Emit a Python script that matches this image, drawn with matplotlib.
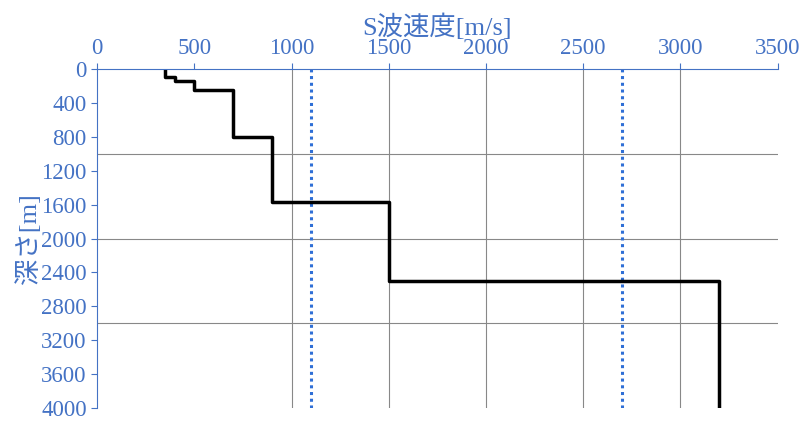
import matplotlib.pyplot as plt
plt.rcParams['font.family'] = ['Liberation Serif', 'Noto Sans CJK JP', 'DejaVu Sans']

vs = [350, 400, 500, 700, 900, 1500, 3200]
top = [0, 100, 140, 250, 800, 1570, 2500]
bottom = [100, 140, 250, 800, 1570, 2500, 4000]
ref_lines = [1100, 2700]
xticks = [0, 500, 1000, 1500, 2000, 2500, 3000, 3500]
yticks = list(range(0, 4001, 400))
grid_y = [1000, 2000, 3000]
grid_x = [1000, 1500, 2000, 2500, 3000]

blue = '#4472C4'
fig = plt.figure(figsize=(8.1, 4.26), dpi=100)
ax = fig.add_axes([0.12, 0.042, 0.84, 0.796])
xs, ys = [], []
for v, t, b in zip(vs, top, bottom):
    xs += [v, v]; ys += [t, b]
for g in grid_x:
    ax.axvline(g, color='#888888', lw=0.8, zorder=0)
for g in grid_y:
    ax.axhline(g, color='#888888', lw=0.8, zorder=0)
for r in ref_lines:
    ax.axvline(r, color='#2F6FD6', lw=2.2, ls=(0, (1, 1.2)))
ax.plot(xs, ys, color='black', lw=2.5)
ax.set_xlim(0, 3500); ax.set_ylim(4000, 0)
ax.xaxis.tick_top(); ax.xaxis.set_label_position('top')
ax.set_xticks(xticks); ax.set_yticks(yticks)
ax.tick_params(colors=blue, labelsize=16.5, length=4)
for s in ['right', 'bottom']:
    ax.spines[s].set_visible(False)
for s in ['left', 'top']:
    ax.spines[s].set_color(blue)
ax.set_xlabel('S波速度[m/s]', color=blue, fontsize=19, labelpad=2)
ax.set_ylabel('深さ[m]', color=blue, fontsize=19, labelpad=0)
fig.savefig('out.png')
